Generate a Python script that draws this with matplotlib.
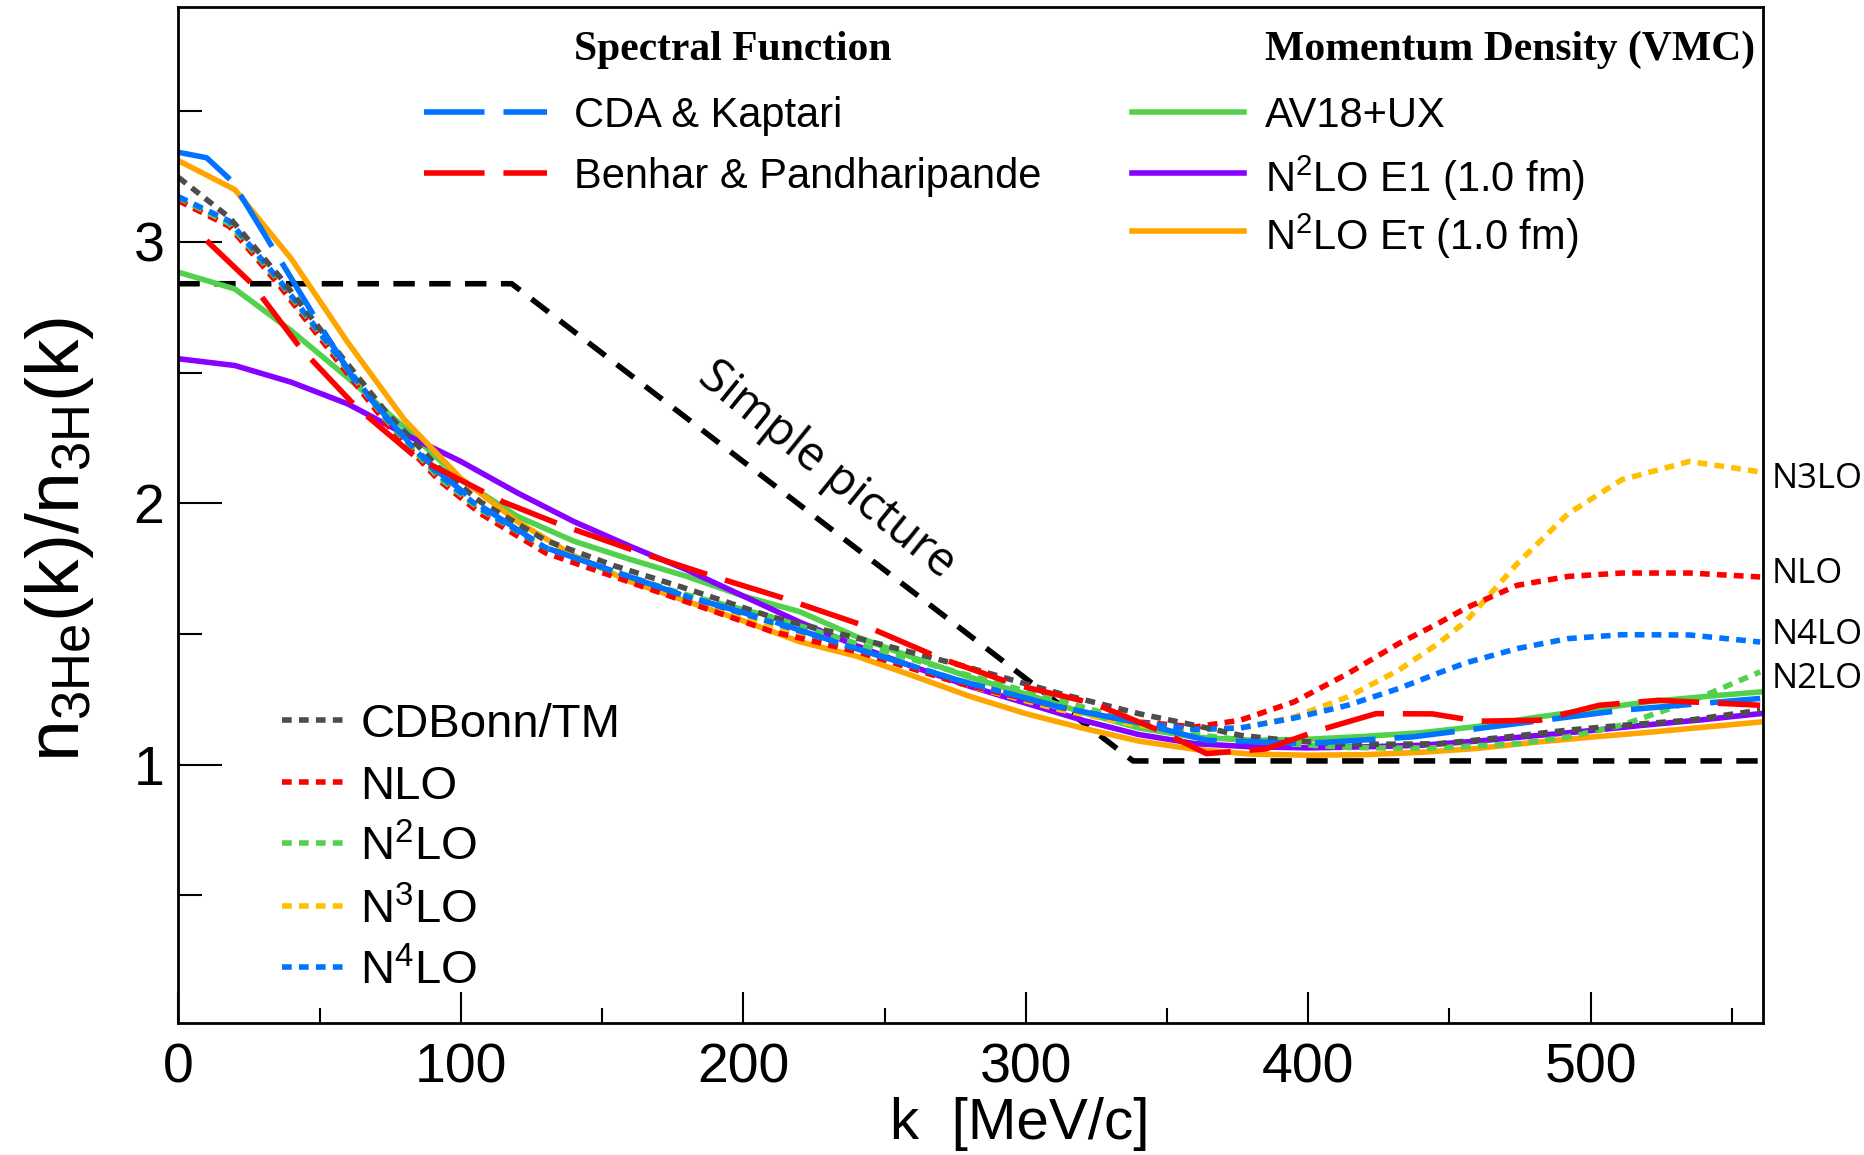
import matplotlib
matplotlib.use("Agg")
import matplotlib.pyplot as plt
from matplotlib.ticker import MultipleLocator

plt.rcParams['font.family'] = ['Liberation Sans', 'DejaVu Sans']
plt.rcParams['mathtext.fontset'] = 'custom'
plt.rcParams['mathtext.rm'] = 'Liberation Sans'
plt.rcParams['mathtext.it'] = 'Liberation Sans:italic'
plt.rcParams['mathtext.bf'] = 'Liberation Sans:bold'

# ---- ratio n_3He(k) / n_3H(k) ----
# spectral function calculations
k_cda = [0, 10, 19, 34, 49, 63, 80, 92, 107, 130, 154, 178, 210, 241, 277, 312, 340, 364, 400, 437, 474, 511, 560]
r_cda = [3.343, 3.322, 3.232, 2.967, 2.70, 2.46, 2.253, 2.12, 1.99, 1.83, 1.74, 1.65, 1.55, 1.44, 1.32, 1.22, 1.16,
         1.093, 1.081, 1.106, 1.157, 1.208, 1.253]

k_benhar = [10, 26, 43, 63, 84, 115, 136, 163, 190, 213, 244, 270, 297, 324, 347, 364, 385, 404, 424, 444, 460, 482,
            503, 524, 560]
r_benhar = [3.005, 2.84, 2.597, 2.368, 2.177, 2.005, 1.915, 1.813, 1.718, 1.641, 1.527, 1.406, 1.304, 1.234, 1.132,
            1.042, 1.06, 1.132, 1.195, 1.194, 1.166, 1.17, 1.227, 1.246, 1.227]

# VMC momentum densities
k_vmc = [0, 20, 40, 60, 80, 100, 120, 140, 160, 180, 200, 220, 240, 260, 280, 300, 320, 340, 360, 380, 400, 420, 440,
         460, 480, 500, 520, 540, 560]
r_av18 = [2.884, 2.82, 2.66, 2.48, 2.29, 2.09, 1.95, 1.855, 1.785, 1.72, 1.645, 1.585, 1.49, 1.41, 1.335, 1.27, 1.20,
          1.14, 1.105, 1.093, 1.097, 1.108, 1.122, 1.146, 1.18, 1.21, 1.24, 1.26, 1.278]
r_e1 = [2.553, 2.527, 2.463, 2.38, 2.265, 2.16, 2.04, 1.93, 1.835, 1.745, 1.645, 1.545, 1.455, 1.375, 1.30, 1.235,
        1.17, 1.115, 1.08, 1.068, 1.064, 1.068, 1.074, 1.09, 1.11, 1.13, 1.152, 1.172, 1.195]
r_etau = [3.311, 3.20, 2.935, 2.615, 2.32, 2.095, 1.93, 1.80, 1.70, 1.625, 1.55, 1.47, 1.415, 1.34, 1.262, 1.195,
          1.14, 1.09, 1.058, 1.04, 1.036, 1.038, 1.047, 1.062, 1.085, 1.105, 1.123, 1.143, 1.163]

# chiral / CD-Bonn momentum distributions
k_chi = [0, 18, 36, 56, 74, 92, 107, 130, 154, 178, 210, 241, 277, 312, 340, 360, 376, 395, 414, 432, 446, 456, 474,
         492, 511, 535, 560]
r_cdbonn = [3.247, 3.094, 2.865, 2.585, 2.343, 2.138, 2.005, 1.858, 1.762, 1.68, 1.565, 1.482, 1.38, 1.272, 1.195,
            1.15, 1.112, 1.09, 1.078, 1.078, 1.08, 1.09, 1.11, 1.132, 1.15, 1.17, 1.208]
r_nlo = [3.158, 3.06, 2.83, 2.55, 2.30, 2.09, 1.96, 1.81, 1.72, 1.63, 1.51, 1.43, 1.31, 1.22, 1.163, 1.144, 1.17,
         1.24, 1.348, 1.463, 1.54, 1.60, 1.686, 1.72, 1.733, 1.733, 1.718]
r_n2lo = [3.17, 3.07, 2.845, 2.565, 2.315, 2.10, 1.975, 1.83, 1.74, 1.655, 1.565, 1.46, 1.35, 1.245, 1.16, 1.115,
          1.095, 1.078, 1.066, 1.063, 1.064, 1.07, 1.08, 1.106, 1.151, 1.24, 1.355]
r_n3lo = [3.165, 3.065, 2.84, 2.56, 2.31, 2.10, 1.97, 1.82, 1.73, 1.64, 1.535, 1.43, 1.31, 1.21, 1.15, 1.135, 1.14,
          1.182, 1.259, 1.361, 1.463, 1.55, 1.769, 1.96, 2.09, 2.16, 2.12]
r_n4lo = [3.173, 3.08, 2.85, 2.57, 2.32, 2.11, 1.98, 1.83, 1.74, 1.65, 1.545, 1.44, 1.32, 1.22, 1.16, 1.135, 1.14,
          1.178, 1.227, 1.291, 1.35, 1.39, 1.444, 1.482, 1.497, 1.496, 1.469]

# naive expectation
k_simple = [0, 118, 338, 560]
r_simple = [2.84, 2.84, 1.014, 1.014]

BLUE = '#0073ff'
RED = '#ff0000'
GREEN = '#52d14d'
PURPLE = '#8800ff'
ORANGE = '#ffa500'
YELLOW = '#ffc000'
GRAY = '#4d4d4d'

LW = 4.0
DOT = (0, (1.75, 1.3))
LONG = (0, (10.9, 3.4))

fig = plt.figure(figsize=(18.64, 11.55), dpi=100)
ax = fig.add_axes([0.0957, 0.114, 0.8501, 0.8802])

ax.plot(k_simple, r_simple, color='black', lw=LW, linestyle=(0, (3.85, 2.6)))

ax.plot(k_vmc, r_av18, color=GREEN, lw=LW)
ax.plot(k_vmc, r_e1, color=PURPLE, lw=LW)
ax.plot(k_vmc, r_etau, color=ORANGE, lw=LW)

ax.plot(k_chi, r_n3lo, color=YELLOW, lw=LW, linestyle=DOT)
ax.plot(k_chi, r_nlo, color=RED, lw=LW, linestyle=DOT)
ax.plot(k_chi, r_n2lo, color=GREEN, lw=LW, linestyle=DOT)
ax.plot(k_chi, r_n4lo, color=BLUE, lw=LW, linestyle=DOT)
ax.plot(k_chi, r_cdbonn, color=GRAY, lw=LW, linestyle=DOT)

ax.plot(k_cda, r_cda, color=BLUE, lw=LW, linestyle=LONG)
ax.plot(k_benhar, r_benhar, color=RED, lw=LW, linestyle=LONG)

ax.set_xlim(0, 561)
ax.set_ylim(0.01, 3.9)

ax.xaxis.set_major_locator(MultipleLocator(100))
ax.xaxis.set_minor_locator(MultipleLocator(50))
ax.yaxis.set_minor_locator(MultipleLocator(0.5))
ax.set_yticks([1, 2, 3])
ax.set_yticklabels(['1', '2', '3'])
ax.tick_params(axis='both', which='both', direction='in', top=False, right=False, width=1.5, labelsize=40)
ax.tick_params(axis='x', which='major', length=22, pad=14)
ax.tick_params(axis='x', which='minor', length=11)
ax.tick_params(axis='y', which='major', length=32, pad=10)
ax.tick_params(axis='y', which='minor', length=17)
for s in ax.spines.values():
    s.set_linewidth(2.0)

fig.text(0.547, 0.027, 'k  [MeV/c]', fontsize=42, ha='center', va='center')
fig.text(0.032, 0.533, r'n$_\mathregular{3He}$(k)/n$_\mathregular{3H}$(k)', fontsize=54,
         rotation=90, ha='center', va='center')

# top legend blocks
ax.text(0.2494, 0.9574, 'Spectral Function', transform=ax.transAxes, family='Liberation Serif',
        weight='bold', fontsize=30, va='center')
ax.text(0.686, 0.9574, 'Momentum Density (VMC)', transform=ax.transAxes, family='Liberation Serif',
        weight='bold', fontsize=30, va='center')

top_rows = [0.8967, 0.8366, 0.7795]
spec_entries = [('CDA & Kaptari', BLUE), ('Benhar & Pandharipande', RED)]
for (label, c), yy in zip(spec_entries, top_rows):
    ax.plot([0.1553, 0.2327], [yy, yy], color=c, lw=LW, linestyle=LONG, transform=ax.transAxes, clip_on=False)
    ax.text(0.2494, yy, label, transform=ax.transAxes, fontsize=30, va='center_baseline')

vmc_entries = [('AV18+UX', GREEN), (r'N$^\mathregular{2}$LO E1 (1.0 fm)', PURPLE),
               (r'N$^\mathregular{2}$LO Eτ (1.0 fm)', ORANGE)]
for (label, c), yy in zip(vmc_entries, top_rows):
    ax.plot([0.6016, 0.6724], [yy, yy], color=c, lw=LW, transform=ax.transAxes, clip_on=False)
    ax.text(0.686, yy, label, transform=ax.transAxes, fontsize=30, va='center_baseline')

# bottom-left legend
chi_entries = [('CDBonn/TM', GRAY), ('NLO', RED), (r'N$^\mathregular{2}$LO', GREEN),
               (r'N$^\mathregular{3}$LO', YELLOW), (r'N$^\mathregular{4}$LO', BLUE)]
chi_rows = [0.2983, 0.2377, 0.1771, 0.1154, 0.0551]
for (label, c), yy in zip(chi_entries, chi_rows):
    ax.plot([0.0653, 0.1063], [yy, yy], color=c, lw=LW, linestyle=DOT, transform=ax.transAxes)
    ax.text(0.1147, yy, label, transform=ax.transAxes, fontsize=34, va='center_baseline')

# order labels at the right edge
for label, yy in [('N3LO', 2.094), ('NLO', 1.731), ('N4LO', 1.495), ('N2LO', 1.329)]:
    ax.text(564, yy, label, family='Open Sans', fontsize=25, va='center', ha='left', clip_on=False)

ax.text(229.5, 2.126, 'Simple picture', family='Open Sans', fontsize=34, rotation=-39,
        rotation_mode='anchor', ha='center', va='center')

fig.savefig('out.png', dpi=100)
